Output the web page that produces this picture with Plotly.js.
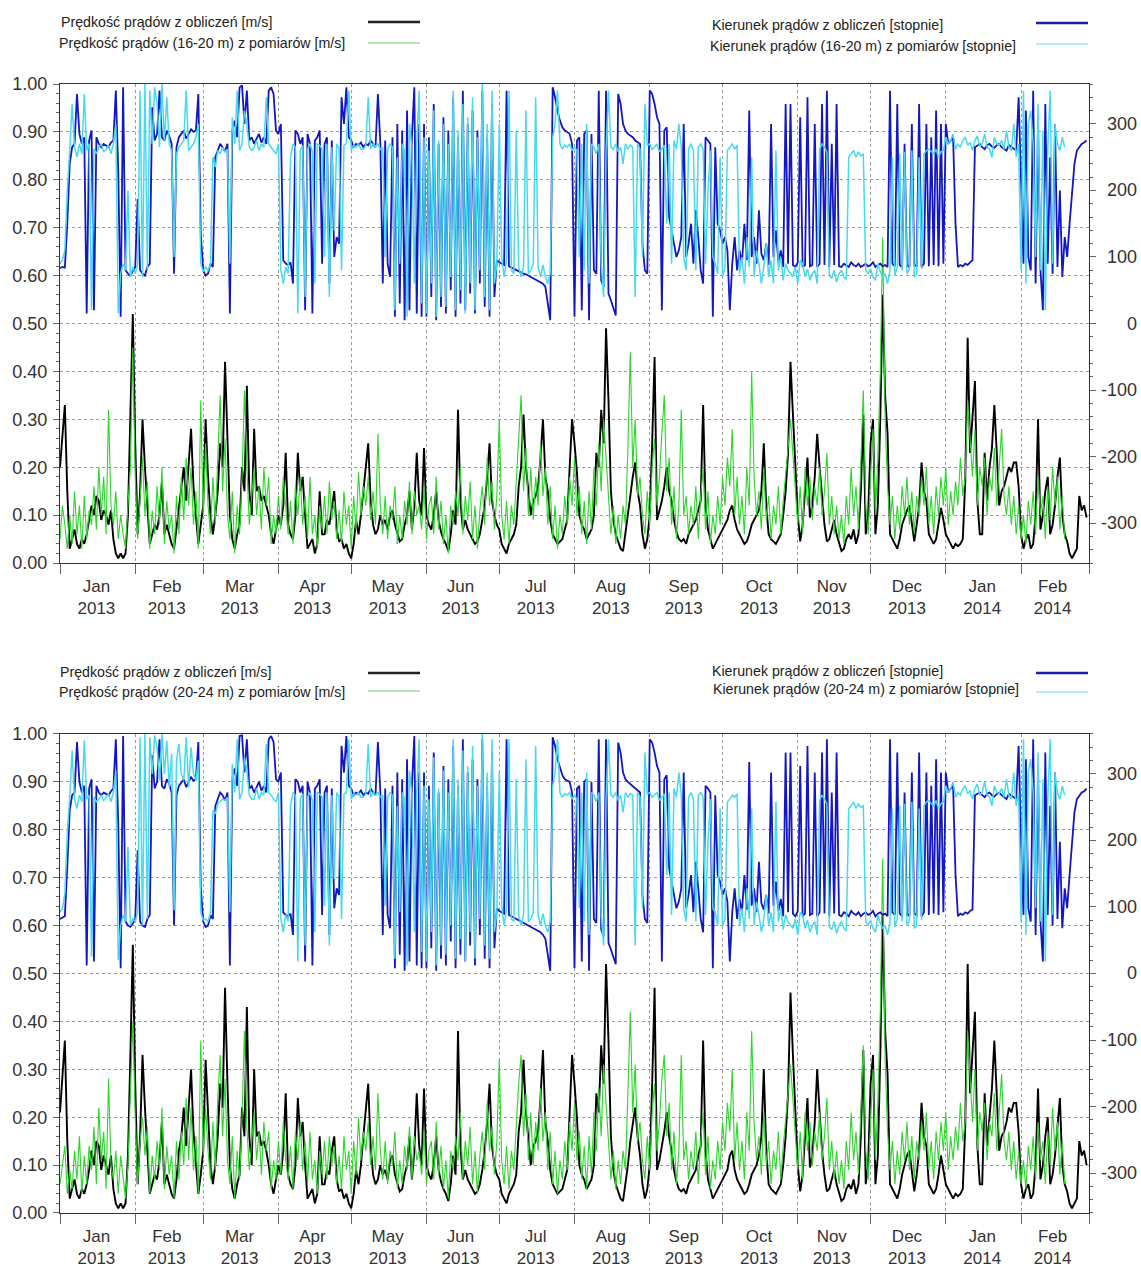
<!DOCTYPE html>
<html><head><meta charset="utf-8">
<script src="https://cdn.plot.ly/plotly-3.0.1.min.js"></script>
<style>html,body{margin:0;padding:0;background:#fff}#chart{width:1141px;height:1269px}</style>
</head><body><div id="chart"></div>
<script>
// Daily values starting 2013-01-01
const monthStarts = ['2013-01-01','2013-02-01','2013-03-01','2013-04-01','2013-05-01','2013-06-01','2013-07-01','2013-08-01','2013-09-01','2013-10-01','2013-11-01','2013-12-01','2014-01-01','2014-02-01','2014-03-01'];
const monthMids = ['2013-01-16','2013-02-14','2013-03-16','2013-04-15','2013-05-16','2013-06-15','2013-07-16','2013-08-16','2013-09-15','2013-10-16','2013-11-15','2013-12-16','2014-01-16','2014-02-14'];
const monthLabels = ['Jan<br>2013','Feb<br>2013','Mar<br>2013','Apr<br>2013','May<br>2013','Jun<br>2013','Jul<br>2013','Aug<br>2013','Sep<br>2013','Oct<br>2013','Nov<br>2013','Dec<br>2013','Jan<br>2014','Feb<br>2014'];
const rightTicks = [-300,-200,-100,0,100,200,300];
const rightLabels = ['-300','-200','-100','0','100','200','300'];

// Panel 1 : speed computed [m/s]
const speedCalc1 = [
0.20,0.26,0.33,0.15,0.03,0.05,0.07,0.04,0.03,0.05,
0.04,0.06,0.09,0.12,0.10,0.14,0.13,0.09,0.11,0.10,
0.08,0.11,0.05,0.02,0.01,0.02,0.01,0.02,0.10,0.30,
0.52,0.25,0.06,0.15,0.30,0.20,0.12,0.04,0.06,0.08,
0.07,0.10,0.17,0.06,0.08,0.06,0.04,0.03,0.07,0.12,
0.15,0.20,0.13,0.20,0.28,0.16,0.10,0.04,0.08,0.12,
0.30,0.18,0.10,0.06,0.10,0.15,0.25,0.20,0.42,0.25,
0.10,0.05,0.03,0.06,0.08,0.20,0.15,0.37,0.15,0.10,
0.28,0.15,0.16,0.13,0.14,0.12,0.10,0.06,0.04,0.07,
0.10,0.08,0.12,0.23,0.08,0.06,0.05,0.10,0.23,0.15,
0.18,0.10,0.03,0.04,0.05,0.02,0.04,0.15,0.06,0.06,
0.09,0.08,0.12,0.15,0.07,0.045,0.05,0.03,0.04,0.02,
0.01,0.04,0.09,0.06,0.10,0.15,0.20,0.25,0.13,0.08,
0.06,0.07,0.10,0.08,0.09,0.07,0.10,0.11,0.08,0.06,
0.045,0.05,0.08,0.10,0.15,0.07,0.12,0.23,0.13,0.10,
0.24,0.10,0.08,0.07,0.10,0.15,0.09,0.065,0.05,0.04,
0.025,0.06,0.11,0.08,0.32,0.13,0.07,0.09,0.07,0.06,
0.05,0.04,0.045,0.06,0.09,0.12,0.18,0.25,0.13,0.10,
0.08,0.07,0.04,0.03,0.02,0.04,0.05,0.06,0.08,0.16,
0.20,0.31,0.20,0.15,0.10,0.13,0.14,0.16,0.22,0.30,
0.18,0.15,0.09,0.06,0.05,0.04,0.045,0.05,0.07,0.09,
0.20,0.30,0.25,0.19,0.10,0.08,0.07,0.05,0.06,0.07,
0.10,0.23,0.20,0.32,0.25,0.49,0.34,0.15,0.09,0.06,
0.045,0.03,0.025,0.06,0.10,0.14,0.18,0.21,0.15,0.12,
0.06,0.03,0.05,0.10,0.25,0.43,0.09,0.11,0.13,0.16,
0.20,0.15,0.13,0.09,0.065,0.05,0.045,0.05,0.04,0.06,
0.07,0.08,0.09,0.11,0.13,0.33,0.12,0.07,0.05,0.03,
0.04,0.05,0.06,0.07,0.08,0.09,0.11,0.12,0.09,0.07,
0.06,0.05,0.04,0.045,0.06,0.08,0.09,0.10,0.11,0.15,
0.25,0.12,0.06,0.05,0.045,0.04,0.05,0.06,0.10,0.15,
0.23,0.42,0.31,0.20,0.10,0.045,0.08,0.15,0.22,0.095,
0.12,0.18,0.27,0.20,0.13,0.08,0.045,0.05,0.07,0.09,
0.06,0.04,0.025,0.03,0.05,0.06,0.05,0.07,0.04,0.06,
0.15,0.31,0.06,0.10,0.25,0.30,0.06,0.12,0.30,0.56,
0.35,0.27,0.06,0.05,0.04,0.03,0.05,0.08,0.095,0.11,
0.12,0.08,0.045,0.08,0.12,0.21,0.15,0.13,0.06,0.05,
0.04,0.05,0.08,0.115,0.09,0.06,0.05,0.04,0.03,0.04,
0.035,0.04,0.05,0.17,0.47,0.23,0.30,0.38,0.13,0.06,
0.06,0.23,0.13,0.20,0.24,0.33,0.23,0.12,0.15,0.16,
0.18,0.20,0.19,0.21,0.21,0.16,0.06,0.03,0.05,0.06,
0.03,0.04,0.10,0.30,0.07,0.10,0.15,0.18,0.06,0.08,
0.12,0.18,0.22,0.10,0.06,0.045,0.02,0.01,0.02,0.03,
0.14,0.11,0.12,0.095];

// Panel 1 : speed measured 16-20 m [m/s]
const speedMeas1 = [
0.05,0.12,0.08,0.03,0.10,0.04,0.15,0.06,0.12,0.03,
0.14,0.05,0.11,0.08,0.16,0.07,0.20,0.10,0.18,0.06,
0.32,0.12,0.08,0.15,0.05,0.10,0.06,0.03,0.12,0.20,
0.45,0.18,0.05,0.14,0.22,0.10,0.17,0.03,0.11,0.06,
0.16,0.08,0.20,0.04,0.13,0.07,0.10,0.02,0.14,0.06,
0.18,0.09,0.22,0.12,0.20,0.08,0.15,0.03,0.34,0.10,
0.25,0.12,0.06,0.18,0.08,0.22,0.35,0.15,0.26,0.10,
0.05,0.15,0.02,0.12,0.06,0.18,0.36,0.20,0.08,0.14,
0.20,0.10,0.16,0.07,0.20,0.12,0.18,0.04,0.10,0.06,
0.14,0.07,0.18,0.12,0.06,0.13,0.04,0.16,0.10,0.18,
0.08,0.14,0.05,0.18,0.06,0.10,0.03,0.12,0.07,0.14,
0.06,0.17,0.09,0.13,0.05,0.11,0.04,0.15,0.08,0.12,
0.03,0.14,0.07,0.19,0.10,0.16,0.12,0.18,0.09,0.15,
0.08,0.27,0.12,0.06,0.14,0.05,0.12,0.09,0.16,0.04,
0.10,0.05,0.13,0.08,0.17,0.06,0.15,0.10,0.12,0.07,
0.16,0.05,0.12,0.14,0.06,0.18,0.07,0.13,0.04,0.10,
0.02,0.12,0.08,0.15,0.10,0.20,0.06,0.14,0.09,0.17,
0.05,0.12,0.03,0.11,0.16,0.08,0.22,0.12,0.17,0.07,
0.14,0.30,0.10,0.05,0.13,0.04,0.12,0.08,0.18,0.26,
0.35,0.15,0.24,0.10,0.20,0.09,0.18,0.12,0.25,0.14,
0.20,0.08,0.16,0.05,0.12,0.03,0.10,0.06,0.14,0.08,
0.18,0.12,0.22,0.10,0.16,0.06,0.13,0.04,0.15,0.07,
0.20,0.12,0.25,0.15,0.30,0.22,0.14,0.06,0.12,0.04,
0.10,0.05,0.12,0.08,0.24,0.44,0.20,0.30,0.14,0.18,
0.10,0.06,0.15,0.08,0.20,0.26,0.12,0.18,0.27,0.35,
0.15,0.22,0.08,0.16,0.05,0.12,0.32,0.10,0.14,0.06,
0.12,0.08,0.16,0.05,0.14,0.20,0.07,0.15,0.04,0.10,
0.06,0.14,0.08,0.18,0.12,0.22,0.16,0.28,0.10,0.18,
0.08,0.14,0.06,0.20,0.12,0.40,0.18,0.10,0.15,0.07,
0.20,0.09,0.14,0.05,0.12,0.08,0.16,0.06,0.13,0.18,
0.24,0.30,0.22,0.14,0.08,0.16,0.06,0.20,0.12,0.18,
0.09,0.16,0.12,0.20,0.10,0.15,0.23,0.08,0.14,0.06,
0.12,0.05,0.10,0.04,0.14,0.08,0.20,0.10,0.16,0.07,
0.20,0.36,0.12,0.06,0.18,0.28,0.10,0.22,0.40,0.68,
0.30,0.16,0.08,0.14,0.05,0.12,0.07,0.16,0.10,0.18,
0.08,0.15,0.06,0.14,0.10,0.18,0.12,0.20,0.08,0.14,
0.06,0.16,0.10,0.18,0.12,0.20,0.08,0.15,0.10,0.17,
0.12,0.22,0.14,0.18,0.34,0.25,0.18,0.28,0.12,0.20,
0.16,0.22,0.10,0.18,0.15,0.24,0.12,0.20,0.28,0.14,
0.10,0.16,0.08,0.14,0.06,0.12,0.05,0.10,0.04,0.13,
0.08,0.15,0.06,0.18,0.10,0.14,0.05,0.16,0.09,0.20,
0.12,0.18,0.07,0.14,0.05];

// Panel 1 : direction computed [deg]
const dirCalc1 = [
83,85,84,150,240,265,270,345,285,270,
280,15,275,290,20,280,270,265,270,268,
265,272,275,350,230,10,355,80,75,72,
78,85,187,80,75,72,85,90,325,275,
285,350,280,275,290,282,270,75,265,280,
285,290,278,285,292,288,290,345,135,80,
72,75,90,85,250,260,270,265,258,270,
15,290,305,280,355,358,300,350,275,280,
270,278,285,272,280,270,350,355,345,290,
285,300,95,90,88,92,60,290,285,270,
280,20,285,270,15,275,280,290,90,270,
280,60,275,100,130,120,340,300,355,280,
275,265,270,268,272,265,270,268,275,270,
265,345,270,60,275,90,70,280,10,300,
30,290,5,320,20,280,355,15,300,10,
300,10,280,40,330,5,270,25,310,15,
290,50,340,10,280,30,350,20,300,45,
320,15,290,60,350,25,280,10,330,40,
95,92,90,88,350,86,84,82,80,78,
76,75,74,72,70,68,66,64,62,60,
55,30,5,355,340,320,305,295,290,288,
285,270,10,275,280,20,285,290,5,285,
80,75,350,65,55,350,45,35,25,12,
345,330,300,290,285,282,280,275,272,270,
120,80,75,350,345,330,310,300,20,290,
295,160,140,120,100,110,130,300,100,120,
150,90,170,130,80,60,280,275,270,10,
265,150,140,120,130,110,20,90,130,80,
110,90,150,95,320,100,130,90,170,105,
95,120,88,300,100,140,92,110,85,330,
90,330,88,85,92,310,85,88,340,86,
88,300,85,90,330,88,350,85,270,88,
330,86,85,90,88,85,92,88,86,90,
85,88,90,86,88,92,85,88,90,86,
88,85,350,90,86,330,88,85,270,88,
85,300,88,86,330,85,90,300,86,280,
88,320,86,300,90,300,270,275,280,150,
85,88,86,90,88,92,95,265,268,270,
265,262,268,270,266,264,268,270,265,262,
260,268,265,262,260,340,200,90,320,100,
80,350,60,300,80,20,330,90,250,75,
300,85,200,70,130,100,150,200,240,260,
265,270,272,275];

// Panel 1 : direction measured 16-20 m [deg]
const dirMeas1 = [
90,95,110,200,260,330,265,250,270,255,
345,260,270,20,262,255,265,270,258,262,
268,255,270,300,15,75,90,80,200,70,
85,75,90,350,70,360,80,350,270,355,
330,265,360,275,340,270,260,100,255,265,
270,275,350,260,265,270,280,300,90,78,
85,80,88,250,235,260,255,265,258,262,
90,310,270,350,260,270,320,300,265,260,
265,275,260,270,265,340,270,265,260,255,
270,80,60,85,75,250,270,265,15,260,
268,40,262,270,258,60,270,268,262,100,
270,40,265,140,270,262,80,268,270,350,
260,268,265,270,262,262,268,340,262,270,
266,270,262,265,100,262,270,265,20,250,
90,270,260,10,300,265,60,270,350,30,
280,15,260,60,320,10,275,40,300,25,
270,70,350,20,290,50,330,15,310,60,
340,20,280,80,360,40,300,20,350,60,
90,300,100,70,95,350,80,75,290,85,
70,85,320,75,80,90,340,85,70,88,
70,60,75,280,300,350,270,262,268,265,
270,260,265,260,100,270,80,300,60,270,
265,255,270,90,40,260,350,265,262,270,
258,265,240,270,262,268,265,40,270,262,
100,330,268,270,262,265,270,258,262,268,
150,270,90,275,262,300,265,100,80,262,
270,260,80,265,270,262,90,200,260,100,
90,75,250,70,85,260,265,270,262,268,
75,100,60,130,85,250,70,110,90,60,
85,120,70,95,60,260,80,100,65,90,
80,75,70,85,60,95,90,70,82,65,
75,80,60,262,270,265,258,72,68,80,
62,75,80,70,66,250,255,260,250,258,
252,255,80,75,82,70,65,90,78,70,
75,60,80,250,72,85,255,80,258,75,
82,260,70,75,250,82,255,260,262,258,
255,262,250,258,260,280,270,275,285,262,
270,265,275,280,268,272,260,275,282,266,
270,285,265,262,250,280,270,268,275,262,
290,265,260,300,250,270,80,350,60,300,
320,270,100,330,80,290,20,260,350,90,
300,270,260,280,265];

// Panel 2 : speed computed [m/s]
const speedCalc2 = [
0.21,0.28,0.36,0.15,0.03,0.05,0.07,0.04,0.03,0.05,
0.04,0.06,0.09,0.13,0.10,0.15,0.14,0.09,0.12,0.10,
0.08,0.12,0.05,0.02,0.01,0.02,0.01,0.02,0.12,0.33,
0.56,0.27,0.06,0.16,0.33,0.22,0.12,0.04,0.06,0.08,
0.07,0.11,0.19,0.06,0.08,0.06,0.04,0.03,0.07,0.13,
0.16,0.22,0.14,0.22,0.30,0.17,0.10,0.04,0.08,0.13,
0.32,0.19,0.10,0.06,0.10,0.16,0.27,0.22,0.47,0.27,
0.10,0.05,0.03,0.06,0.08,0.22,0.16,0.43,0.16,0.10,
0.30,0.16,0.17,0.14,0.15,0.13,0.10,0.06,0.04,0.07,
0.10,0.08,0.13,0.25,0.08,0.06,0.05,0.10,0.24,0.16,
0.19,0.10,0.03,0.04,0.05,0.02,0.04,0.16,0.06,0.06,
0.09,0.08,0.13,0.16,0.07,0.045,0.05,0.03,0.04,0.02,
0.01,0.04,0.09,0.06,0.10,0.16,0.21,0.27,0.14,0.08,
0.06,0.07,0.10,0.08,0.09,0.07,0.11,0.12,0.08,0.06,
0.045,0.05,0.08,0.10,0.16,0.07,0.13,0.25,0.14,0.10,
0.26,0.10,0.08,0.07,0.10,0.16,0.09,0.065,0.05,0.04,
0.025,0.06,0.12,0.08,0.38,0.14,0.07,0.09,0.07,0.06,
0.05,0.04,0.045,0.06,0.09,0.13,0.19,0.27,0.14,0.10,
0.08,0.07,0.04,0.03,0.02,0.04,0.05,0.06,0.08,0.17,
0.21,0.32,0.21,0.16,0.10,0.14,0.15,0.17,0.24,0.34,
0.19,0.15,0.09,0.06,0.05,0.04,0.045,0.05,0.07,0.09,
0.21,0.33,0.27,0.20,0.10,0.08,0.07,0.05,0.06,0.07,
0.10,0.25,0.21,0.35,0.27,0.52,0.36,0.16,0.09,0.06,
0.045,0.03,0.025,0.06,0.10,0.15,0.19,0.22,0.16,0.12,
0.06,0.03,0.05,0.10,0.27,0.47,0.09,0.11,0.14,0.17,
0.21,0.16,0.13,0.09,0.065,0.05,0.045,0.05,0.04,0.06,
0.07,0.08,0.09,0.12,0.14,0.36,0.13,0.07,0.05,0.03,
0.04,0.05,0.06,0.07,0.08,0.09,0.12,0.13,0.09,0.07,
0.06,0.05,0.04,0.045,0.06,0.08,0.09,0.10,0.12,0.16,
0.30,0.13,0.06,0.05,0.045,0.04,0.05,0.06,0.10,0.16,
0.25,0.46,0.33,0.21,0.10,0.045,0.08,0.16,0.24,0.095,
0.12,0.19,0.30,0.21,0.13,0.08,0.045,0.05,0.07,0.09,
0.06,0.04,0.025,0.03,0.05,0.06,0.05,0.07,0.04,0.06,
0.16,0.34,0.06,0.10,0.27,0.33,0.06,0.12,0.33,0.62,
0.38,0.29,0.06,0.05,0.04,0.03,0.05,0.08,0.10,0.12,
0.13,0.08,0.045,0.08,0.13,0.23,0.16,0.14,0.06,0.05,
0.04,0.05,0.08,0.12,0.09,0.06,0.05,0.04,0.03,0.04,
0.035,0.04,0.05,0.18,0.52,0.25,0.33,0.42,0.14,0.06,
0.06,0.25,0.14,0.21,0.26,0.36,0.25,0.13,0.16,0.17,
0.19,0.22,0.21,0.23,0.23,0.17,0.06,0.03,0.05,0.06,
0.03,0.04,0.10,0.26,0.07,0.10,0.16,0.20,0.06,0.08,
0.12,0.19,0.24,0.10,0.06,0.045,0.02,0.01,0.02,0.03,
0.15,0.12,0.13,0.10];

// Panel 2 : speed measured 20-24 m [m/s]
const speedMeas2 = [
0.06,0.10,0.14,0.04,0.09,0.05,0.13,0.07,0.16,0.04,
0.12,0.06,0.14,0.09,0.18,0.06,0.22,0.11,0.17,0.05,
0.28,0.10,0.07,0.13,0.04,0.12,0.07,0.03,0.10,0.24,
0.40,0.20,0.06,0.15,0.20,0.12,0.18,0.04,0.12,0.07,
0.15,0.09,0.22,0.05,0.14,0.08,0.12,0.03,0.15,0.07,
0.17,0.10,0.24,0.11,0.22,0.09,0.16,0.04,0.36,0.12,
0.22,0.13,0.07,0.19,0.09,0.24,0.33,0.16,0.28,0.11,
0.06,0.16,0.03,0.13,0.07,0.20,0.38,0.18,0.09,0.15,
0.21,0.11,0.17,0.08,0.19,0.13,0.17,0.05,0.11,0.07,
0.15,0.08,0.19,0.11,0.07,0.14,0.05,0.17,0.11,0.19,
0.09,0.15,0.06,0.17,0.07,0.11,0.04,0.13,0.08,0.15,
0.07,0.16,0.10,0.14,0.06,0.12,0.05,0.16,0.09,0.13,
0.04,0.15,0.08,0.20,0.11,0.17,0.13,0.19,0.10,0.16,
0.09,0.25,0.13,0.07,0.15,0.06,0.13,0.10,0.17,0.05,
0.11,0.06,0.14,0.09,0.18,0.07,0.16,0.11,0.13,0.08,
0.17,0.06,0.13,0.15,0.07,0.19,0.08,0.14,0.05,0.11,
0.03,0.13,0.09,0.16,0.11,0.21,0.07,0.15,0.10,0.18,
0.06,0.13,0.04,0.12,0.17,0.09,0.23,0.13,0.18,0.08,
0.15,0.32,0.11,0.06,0.14,0.05,0.13,0.09,0.19,0.27,
0.33,0.16,0.25,0.11,0.21,0.10,0.19,0.13,0.26,0.15,
0.21,0.09,0.17,0.06,0.13,0.04,0.11,0.07,0.15,0.09,
0.19,0.13,0.23,0.11,0.17,0.07,0.14,0.05,0.16,0.08,
0.21,0.13,0.26,0.16,0.31,0.23,0.15,0.07,0.13,0.05,
0.11,0.06,0.13,0.09,0.25,0.42,0.21,0.31,0.15,0.19,
0.11,0.07,0.16,0.09,0.21,0.27,0.13,0.19,0.28,0.33,
0.16,0.23,0.09,0.17,0.06,0.13,0.33,0.11,0.15,0.07,
0.13,0.09,0.17,0.06,0.15,0.21,0.08,0.16,0.05,0.11,
0.07,0.15,0.09,0.19,0.13,0.23,0.17,0.30,0.11,0.19,
0.09,0.15,0.07,0.21,0.13,0.38,0.19,0.11,0.16,0.08,
0.21,0.10,0.15,0.06,0.13,0.09,0.17,0.07,0.14,0.19,
0.25,0.31,0.23,0.15,0.09,0.17,0.07,0.21,0.13,0.19,
0.10,0.17,0.13,0.21,0.11,0.16,0.24,0.09,0.15,0.07,
0.13,0.06,0.11,0.05,0.15,0.09,0.21,0.11,0.17,0.08,
0.21,0.35,0.13,0.07,0.19,0.30,0.11,0.23,0.42,0.74,
0.32,0.17,0.09,0.15,0.06,0.13,0.08,0.17,0.11,0.19,
0.09,0.16,0.07,0.15,0.11,0.19,0.13,0.21,0.09,0.15,
0.07,0.17,0.11,0.19,0.13,0.21,0.09,0.16,0.11,0.18,
0.13,0.23,0.15,0.19,0.38,0.27,0.19,0.30,0.13,0.21,
0.17,0.23,0.11,0.19,0.16,0.25,0.13,0.21,0.29,0.15,
0.11,0.17,0.09,0.15,0.07,0.13,0.06,0.11,0.05,0.14,
0.09,0.16,0.07,0.19,0.11,0.15,0.06,0.17,0.10,0.22,
0.13,0.19,0.08,0.15,0.06];

// Panel 2 : direction computed [deg]
const dirCalc2 = [
82,84,86,160,245,268,272,348,288,272,
282,12,278,292,18,282,272,268,272,270,
268,274,278,352,225,8,357,78,72,70,
75,82,185,78,72,70,82,88,328,278,
288,352,282,278,292,285,272,72,268,282,
288,292,280,288,295,290,292,348,130,78,
70,72,88,82,252,262,272,268,260,272,
12,292,308,282,357,358,302,352,278,282,
272,280,288,275,282,272,352,357,348,292,
288,302,92,88,86,90,58,292,288,272,
282,18,288,272,12,278,282,292,88,272,
282,58,278,98,128,118,342,302,357,282,
278,268,272,270,275,268,272,270,278,272,
268,348,272,58,278,88,68,282,8,302,
28,292,4,322,18,282,357,12,302,8,
302,8,282,38,332,4,272,22,312,12,
292,48,342,8,282,28,352,18,302,42,
322,12,292,58,352,22,282,8,332,38,
98,94,92,90,352,88,86,84,82,80,
78,76,75,73,71,69,67,65,62,58,
52,28,4,355,342,322,308,298,292,290,
288,272,8,278,282,18,288,292,4,288,
82,76,352,66,56,352,46,36,26,14,
347,332,302,292,288,285,282,278,275,272,
118,82,76,352,347,332,312,302,18,292,
298,158,138,118,98,108,128,302,98,118,
148,92,168,128,82,62,282,278,272,8,
268,148,138,118,128,108,18,92,128,82,
112,92,148,96,318,102,128,92,168,106,
96,118,90,302,102,138,94,112,86,332,
92,332,90,86,94,312,86,90,342,88,
90,302,86,92,332,90,352,86,272,90,
332,88,86,92,90,86,94,90,88,92,
86,90,92,88,90,94,86,90,92,88,
90,86,352,92,88,332,90,86,272,90,
86,302,90,88,332,86,92,302,88,282,
90,322,88,302,92,302,272,278,282,148,
86,90,88,92,90,94,96,268,270,272,
268,265,270,272,268,266,270,272,268,265,
262,270,268,265,262,342,198,88,322,98,
78,352,58,302,78,18,332,88,252,72,
302,82,198,68,128,98,148,198,242,262,
268,272,274,278];

// Panel 2 : direction measured 20-24 m [deg]
const dirMeas2 = [
92,98,120,210,265,335,262,248,268,258,
350,262,268,25,265,258,262,268,260,265,
270,258,272,305,20,72,88,78,190,72,
82,78,92,355,72,360,82,355,300,358,
340,290,360,300,350,280,330,95,320,345,
300,290,355,280,340,300,290,320,92,80,
82,78,90,245,240,255,258,262,260,265,
92,315,272,352,262,272,325,305,268,262,
262,278,262,272,268,345,272,268,262,258,
272,82,62,88,78,252,272,268,18,262,
270,42,265,272,260,62,272,270,265,102,
272,42,268,142,272,265,82,270,272,352,
262,270,268,272,265,265,270,345,265,272,
268,272,265,268,102,265,272,268,22,252,
92,272,262,12,305,268,62,272,352,32,
282,18,262,62,325,12,278,42,305,28,
272,72,352,22,292,52,335,18,312,62,
342,22,282,82,360,42,302,22,352,62,
92,302,102,72,98,352,82,78,292,88,
72,88,322,78,82,92,342,88,72,90,
72,62,78,282,302,352,272,265,270,268,
272,262,268,262,98,272,78,302,58,272,
268,258,272,88,42,262,352,268,265,272,
260,268,242,272,265,270,268,42,272,265,
98,332,270,272,265,268,272,260,265,270,
148,272,88,278,265,302,268,98,78,265,
272,262,78,268,272,265,88,198,262,98,
92,72,248,72,82,258,262,268,265,270,
72,98,62,128,82,248,72,108,88,62,
82,118,72,92,62,258,78,98,66,88,
78,72,68,82,58,92,88,68,80,62,
72,78,58,260,268,262,255,70,66,78,
60,72,78,68,64,248,252,258,248,255,
250,252,78,72,80,68,62,88,76,68,
72,58,78,248,70,82,252,78,255,72,
80,258,68,72,248,80,252,258,260,255,
252,260,248,255,258,282,272,278,288,265,
272,268,278,282,270,275,262,278,285,268,
272,288,268,265,252,282,272,270,278,265,
292,268,262,302,252,272,78,352,58,302,
322,272,98,332,78,292,18,262,352,88,
302,272,262,282,268];

function dates(n){
  const t0 = Date.UTC(2013,0,1);
  const out = [];
  for(let i=0;i<n;i++){ out.push(new Date(t0 + i*86400000).toISOString().slice(0,10)); }
  return out;
}

const COL_BLACK = '#000000';
const COL_GREEN = 'rgb(40,215,40)';
const COL_BLUE = 'rgb(18,22,196)';
const COL_CYAN = 'rgb(70,218,240)';

function tr(y, xa, ya, color, width){
  return {x: dates(y.length), y: y, xaxis: xa, yaxis: ya, type:'scatter', mode:'lines',
    line:{color: color, width: width}, hoverinfo:'skip', showlegend:false};
}

const data = [
  tr(dirCalc1,'x','y2',COL_BLUE,1.8),
  tr(dirMeas1,'x','y2',COL_CYAN,1.5),
  tr(speedCalc1,'x','y',COL_BLACK,1.9),
  tr(speedMeas1,'x','y',COL_GREEN,1.1),
  tr(dirCalc2,'x2','y4',COL_BLUE,1.8),
  tr(dirMeas2,'x2','y4',COL_CYAN,1.5),
  tr(speedCalc2,'x2','y3',COL_BLACK,1.9),
  tr(speedMeas2,'x2','y3',COL_GREEN,1.1)
];

const FONT = 'Liberation Sans, Arial, sans-serif';
const tickFont = {family: FONT, size: 18, color: '#333'};
const xTickFont = {family: FONT, size: 17, color: '#333'};
const xRange = ['2013-01-01','2014-03-01'];

function xAxis(anchor){
  return {type:'date', range:xRange, anchor:anchor,
    tickmode:'array', tickvals:monthMids, ticktext:monthLabels, ticks:'', showgrid:false,
    tickfont:xTickFont, ticklabelstandoff:7,
    minor:{tickmode:'array', tickvals:monthStarts, ticks:'outside', ticklen:10, tickcolor:'#666', tickwidth:1,
      showgrid:true, gridcolor:'#9a9a9a', griddash:'dot', gridwidth:1},
    showline:true, linecolor:'#333', linewidth:1.2, mirror:true, zeroline:false, fixedrange:true};
}
function yLeft(domain, anchor){
  return {domain:domain, anchor:anchor, range:[0,1], tickmode:'linear', tick0:0, dtick:0.1,
    tickformat:'.2f', ticks:'outside', ticklen:6, tickcolor:'#666', ticklabelstandoff:2,
    minor:{dtick:0.02, ticklen:3, ticks:'outside', tickcolor:'#666', showgrid:false},
    showgrid:true, gridcolor:'#9a9a9a', griddash:'dot', zeroline:false,
    showline:true, linecolor:'#333', linewidth:1.2, tickfont:tickFont, fixedrange:true};
}
function yRight(over, anchor){
  return {overlaying:over, anchor:anchor, side:'right', range:[-360,360], tickmode:'array',
    tickvals:rightTicks, showticklabels:false, ticks:'outside', ticklen:6, tickcolor:'#666',
    minor:{dtick:20, ticklen:3, ticks:'outside', tickcolor:'#666', showgrid:false},
    showgrid:false, zeroline:false, showline:true, linecolor:'#333', linewidth:1.2,
    fixedrange:true};
}

// pixel helpers for layout decorations (plot area: x 60..1089, y 84..1213)
const PL = 60, PW = 1029, PB = 1213, PH = 1129;
const px = v => (v - PL) / PW;
const py = v => (PB - v) / PH;

const legFont = {family:'Liberation Sans, Arial, sans-serif', size:14.2, color:'#222'};
const legends = [
  {t:'Prędkość prądów z obliczeń [m/s]', x:59, y:22},
  {t:'Prędkość prądów (16-20 m) z pomiarów [m/s]', x:57, y:43},
  {t:'Kierunek prądów z obliczeń [stopnie]', x:710, y:25},
  {t:'Kierunek prądów (16-20 m) z pomiarów [stopnie]', x:708, y:46},
  {t:'Prędkość prądów z obliczeń [m/s]', x:58, y:672},
  {t:'Prędkość prądów (20-24 m) z pomiarów [m/s]', x:57, y:692},
  {t:'Kierunek prądów z obliczeń [stopnie]', x:710, y:671},
  {t:'Kierunek prądów (20-24 m) z pomiarów [stopnie]', x:711, y:689}
];
const annotations = legends.map(l => ({text:l.t, xref:'paper', yref:'paper', x:px(l.x), y:py(l.y),
  xanchor:'left', yanchor:'middle', showarrow:false, font:legFont}));

// right-axis tick labels, right-aligned as in the reference
['y2','y4'].forEach(ax => {
  rightTicks.forEach((v, i) => {
    annotations.push({text:rightLabels[i], xref:'paper', yref:ax, x:px(1139), y:v,
      xanchor:'right', yanchor:'middle', showarrow:false, font:tickFont});
  });
});

const legLines = [
  {x0:368,x1:420,y:22,c:'#222',w:2.5},
  {x0:368,x1:420,y:43,c:'rgb(150,225,150)',w:1.5},
  {x0:1036,x1:1088,y:23,c:'rgb(30,30,170)',w:2.5},
  {x0:1036,x1:1088,y:44,c:'rgb(160,228,240)',w:1.5},
  {x0:368,x1:420,y:673,c:'#222',w:2.5},
  {x0:368,x1:420,y:691,c:'rgb(150,225,150)',w:1.5},
  {x0:1036,x1:1088,y:673,c:'rgb(30,30,170)',w:2.5},
  {x0:1036,x1:1088,y:692,c:'rgb(160,228,240)',w:1.5}
];
const shapes = legLines.map(s => ({type:'line', xref:'paper', yref:'paper', x0:px(s.x0), x1:px(s.x1),
  y0:py(s.y), y1:py(s.y), line:{color:s.c, width:s.w}}));

const layout = {
  width:1141, height:1269, margin:{l:60, r:52, t:84, b:56},
  paper_bgcolor:'#fff', plot_bgcolor:'#fff', showlegend:false,
  font:{family:FONT, color:'#333'},
  xaxis: xAxis('y'),
  yaxis: yLeft([0.5757,1],'x'),
  yaxis2: yRight('y','x'),
  xaxis2: xAxis('y3'),
  yaxis3: yLeft([0,0.4243],'x2'),
  yaxis4: yRight('y3','x2'),
  annotations: annotations,
  shapes: shapes
};

Plotly.newPlot('chart', data, layout, {displayModeBar:false, staticPlot:true});
</script></body></html>
